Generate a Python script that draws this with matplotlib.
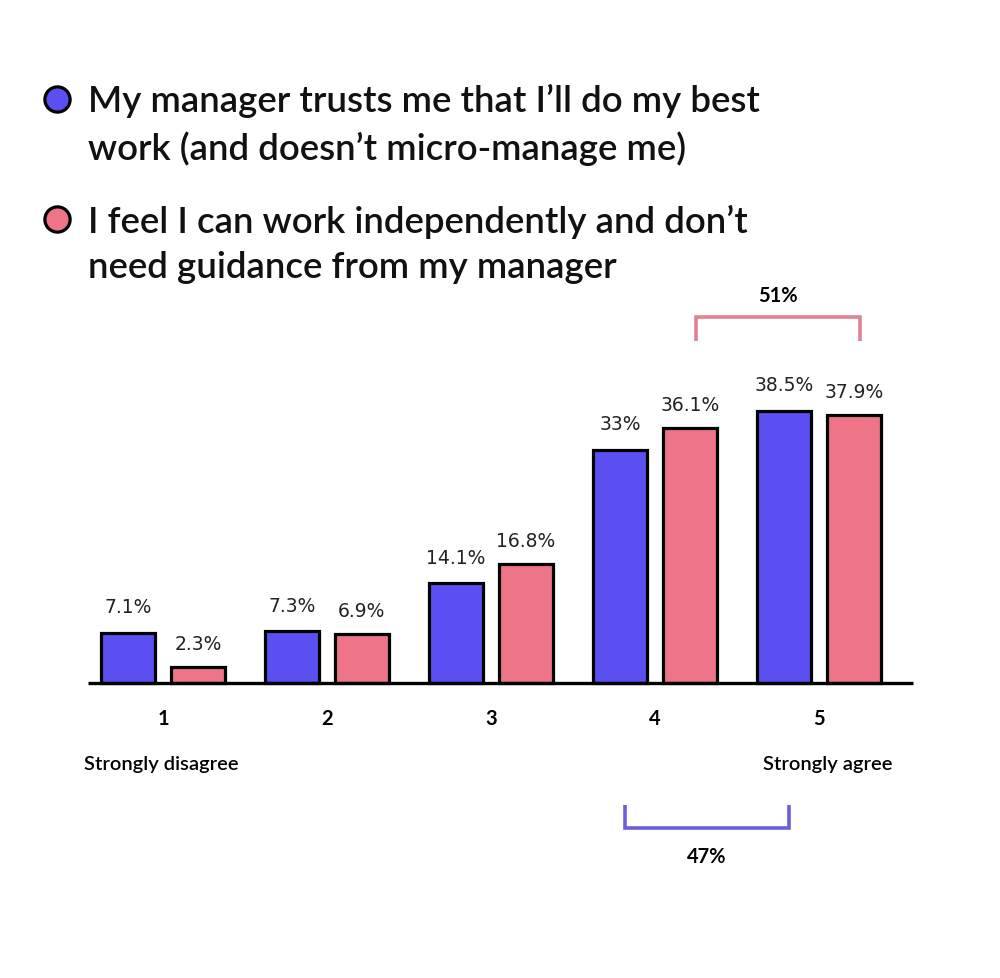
import matplotlib.pyplot as plt
import numpy as np

# Data
categories = ["1", "2", "3", "4", "5"]
trust_vals = [7.1, 7.3, 14.1, 33.0, 38.5]
indep_vals = [2.3, 6.9, 16.8, 36.1, 37.9]
trust_labels = ["7.1%", "7.3%", "14.1%", "33%", "38.5%"]
indep_labels = ["2.3%", "6.9%", "16.8%", "36.1%", "37.9%"]
legend_texts = ["My manager trusts me that I\u2019ll do my best\nwork (and doesn\u2019t micro-manage me)",
                "I feel I can work independently and don\u2019t\nneed guidance from my manager"]
top_two_trust = "47%"
top_two_indep = "51%"

BLUE = "#5a50f2"
PINK = "#ee7587"
BLUE_BR = "#6a5fd8"
PINK_BR = "#e08391"

plt.rcParams['font.family'] = ['Lato', 'DejaVu Sans']

fig = plt.figure(figsize=(10, 9.79), dpi=100)
ax = fig.add_axes([0, 0, 1, 1])

# px -> data mapping: group 1 centred at 163px, 164px per group; baseline 295px from bottom, 7.06px per %
ax.set_xlim(1 - 163 / 164, 1 + 837 / 164)
ax.set_ylim(-295 / 7.06, (979 - 295) / 7.06)
ax.axis('off')

x = np.arange(1, len(categories) + 1)
w = 0.33
off = 0.213

ax.bar(x - off, trust_vals, w, color=BLUE, edgecolor='black', linewidth=2.3, zorder=3)
ax.bar(x + off, indep_vals, w, color=PINK, edgecolor='black', linewidth=2.3, zorder=3)

# baseline
ax.plot([1 - 75 / 164, 1 + 750 / 164], [0, 0], color='black', lw=2.4, zorder=4,
        solid_capstyle='butt')

for xi, v, lab in zip(x - off, trust_vals, trust_labels):
    ax.annotate(lab, (xi, v), xytext=(0, 19), textcoords='offset points',
                ha='center', va='center', fontsize=13.5, color='#222222',
                family=['DejaVu Sans'])
for xi, v, lab in zip(x + off, indep_vals, indep_labels):
    ax.annotate(lab, (xi, v), xytext=(0, 17), textcoords='offset points',
                ha='center', va='center', fontsize=13.5, color='#222222',
                family=['DejaVu Sans'])

# category numbers
for xi, c in zip(x, categories):
    ax.annotate(c, (xi, 0), xytext=(0, -25), textcoords='offset points',
                ha='center', va='center', fontsize=14.5, fontweight='bold')

ax.annotate("Strongly disagree", (x[0], 0), xytext=(-57, -58), textcoords='offset points',
            ha='left', va='center', fontsize=14.5, fontweight='semibold')
ax.annotate("Strongly agree", (x[-1], 0), xytext=(53, -58), textcoords='offset points',
            ha='right', va='center', fontsize=14.5, fontweight='semibold')

# pink bracket (top two boxes, independence)
pl, pr = x[3] + off + 0.04, x[4] + off + 0.04
py_top, py_bot = 51.8, 48.4
ax.plot([pl, pl, pr, pr], [py_bot, py_top, py_top, py_bot], color=PINK_BR, lw=2.6,
        solid_capstyle='butt', solid_joinstyle='miter')
ax.text((pl + pr) / 2, 54.9, top_two_indep, ha='center', va='center', fontsize=14.5,
        fontweight='bold')

# blue bracket (top two boxes, trust)
bl, br = x[3] - off + 0.03, x[4] - off + 0.03
by_top, by_bot = -17.3, -20.5
ax.plot([bl, bl, br, br], [by_top, by_bot, by_bot, by_top], color=BLUE_BR, lw=2.6,
        solid_capstyle='butt', solid_joinstyle='miter')
ax.text((bl + br) / 2, -24.5, top_two_trust, ha='center', va='center', fontsize=14.5,
        fontweight='bold')

# legend drawn as text with circle markers
leg_y = [0.898, 0.775]
for yy, txt, col in zip(leg_y, legend_texts, [BLUE, PINK]):
    ax.scatter([0.057], [yy], s=330, color=col, edgecolor='black', linewidth=2.3,
               transform=fig.transFigure, zorder=5, clip_on=False)
    fig.text(0.088, yy + 0.016, txt, ha='left', va='top', fontsize=26.4,
             fontweight='semibold', linespacing=1.47, color='#111111')

fig.savefig("out.png", dpi=100, facecolor='white')
